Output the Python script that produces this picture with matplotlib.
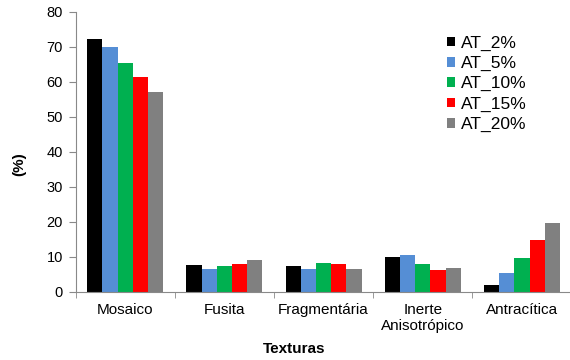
import numpy as np
import matplotlib
matplotlib.use('Agg')
import matplotlib.pyplot as plt

plt.rcParams['font.family'] = ['Liberation Sans', 'DejaVu Sans']

categories = ['Mosaico', 'Fusita', 'Fragmentária', 'Inerte\nAnisotrópico', 'Antracítica']
series = ['AT_2%', 'AT_5%', 'AT_10%', 'AT_15%', 'AT_20%']
at_2 = [72.3, 7.7, 7.4, 10.0, 2.0]
at_5 = [69.9, 6.7, 6.7, 10.6, 5.3]
at_10 = [65.4, 7.4, 8.4, 7.9, 9.7]
at_15 = [61.4, 7.9, 8.1, 6.4, 14.9]
at_20 = [57.1, 9.0, 6.7, 6.9, 19.8]
colours = ['#000000', '#558ED5', '#00B050', '#FF0000', '#808080']


def main():
    fig = plt.figure(figsize=(5.7, 3.6), dpi=100)
    ax = fig.add_axes([0.1325, 0.189, 0.8705, 0.778])

    x = np.arange(len(categories))
    width = 0.153
    for i, (name, vals) in enumerate(zip(series, [at_2, at_5, at_10, at_15, at_20])):
        ax.bar(x + (i - 2) * width, vals, width, color=colours[i], label=name)

    ax.set_xlim(-0.5, len(categories) - 0.5)
    ax.set_ylim(0, 80)
    ax.set_yticks(range(0, 81, 10))
    ax.set_xticks(x)
    ax.set_xticklabels(categories, fontsize=11)
    ax.set_xticks(np.arange(-0.5, len(categories), 1), minor=True)
    ax.tick_params(axis='x', which='major', length=0, pad=8)
    ax.tick_params(axis='x', which='minor', length=4, color='#898989')
    ax.tick_params(axis='y', length=5, color='#898989', labelsize=10.5, pad=4)

    for side in ['top', 'right']:
        ax.spines[side].set_visible(False)
    for side in ['left', 'bottom']:
        ax.spines[side].set_color('#898989')

    ax.set_xlabel('Texturas', fontsize=11, fontweight='bold')
    ax.xaxis.set_label_coords(0.44, -0.18)
    ax.set_ylabel('(%)', fontsize=11, fontweight='bold')
    ax.yaxis.set_label_coords(-0.10, 0.457)

    ax.legend(loc='upper left', bbox_to_anchor=(0.734, 0.94), frameon=False,
              fontsize=12.5, handlelength=0.5, handleheight=0.5,
              handletextpad=0.3, labelspacing=0.3, borderaxespad=0)

    fig.savefig('out.png', dpi=100)


if __name__ == '__main__':
    main()
